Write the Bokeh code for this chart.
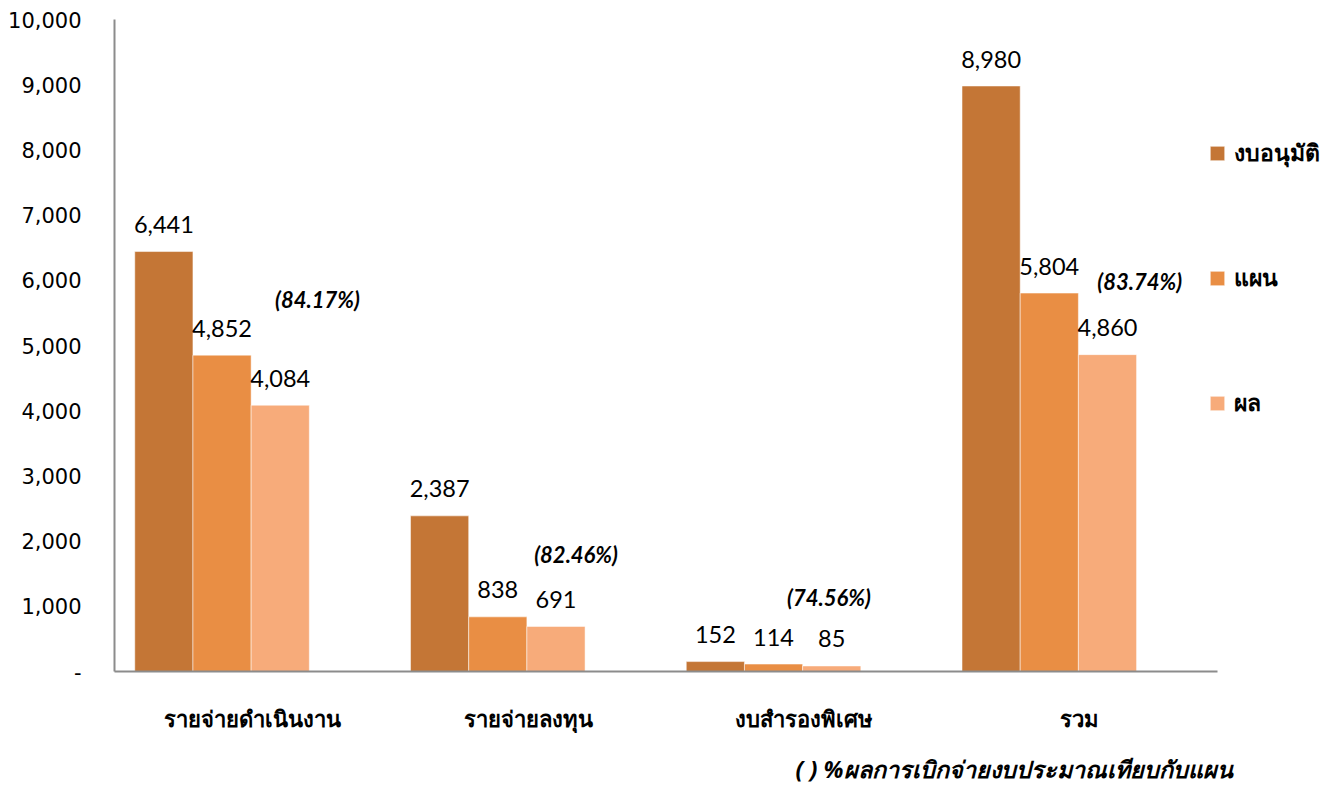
from bokeh.plotting import figure
from bokeh.models import ColumnDataSource, FactorRange, Legend, LegendItem, Label, FixedTicker, Title
from bokeh.transform import dodge
from bokeh.core.properties import value
from bokeh.embed import file_html
from bokeh.resources import INLINE

# ---- data ----
categories = ["รายจ่ายดำเนินงาน", "รายจ่ายลงทุน", "งบสำรองพิเศษ", "รวม"]
approved = [6441, 2387, 152, 8980]
plan = [4852, 838, 114, 5804]
actual = [4084, 691, 85, 4860]
pct_labels = ["(84.17%)", "(82.46%)", "(74.56%)", "(83.74%)"]
series_names = ["งบอนุมัติ", "แผน", "ผล"]
y_ticks = [0, 1000, 2000, 3000, 4000, 5000, 6000, 7000, 8000, 9000, 10000]
footer = "( ) %ผลการเบิกจ่ายงบประมาณเทียบกับแผน"

# ---- layout (not data) ----
colors = ["#C47636", "#E98E44", "#F7AB7A"]
offsets = [-0.321, -0.110, 0.101]
bar_w = 0.211
pct_dx = [0.236, 0.174, 0.091, 0.218]
pct_y = [5706, 1794, 1135, 5982]

src = ColumnDataSource(dict(cat=categories, a=approved, p=plan, r=actual,
                            la=[f"{v:,}" for v in approved],
                            lp=[f"{v:,}" for v in plan],
                            lr=[f"{v:,}" for v in actual]))

p = figure(x_range=FactorRange(*categories, range_padding=0), y_range=(0, 10000),
           frame_width=1103, frame_height=652, output_backend="svg", toolbar_location=None,
           min_border_left=114, min_border_right=0, min_border_top=19, min_border_bottom=0)
p.outline_line_color = None
p.xgrid.grid_line_color = None
p.ygrid.grid_line_color = None
p.background_fill_color = "white"

renderers = []
for i, (col, lab) in enumerate(zip(["a", "p", "r"], ["la", "lp", "lr"])):
    r = p.vbar(x=dodge("cat", offsets[i], range=p.x_range), top=col, width=bar_w,
               source=src, fill_color=colors[i], line_color="white", line_width=0.5)
    renderers.append(r)
    p.text(x=dodge("cat", offsets[i], range=p.x_range), y=col, text=lab, source=src,
           text_align="center", text_baseline="middle", y_offset=-27,
           text_font=value("Lato"), text_font_size="23.5px", text_color="#000000")

for i, c in enumerate(categories):
    p.add_layout(Label(x=i + 0.5 + pct_dx[i], y=pct_y[i], text=pct_labels[i],
                       text_align="center", text_baseline="middle",
                       text_font="Lato", text_font_size="22px",
                       text_font_style="bold italic", text_color="#000000"))

# axes
p.yaxis.ticker = FixedTicker(ticks=y_ticks)
p.yaxis.major_label_overrides = {t: (f"{t:,}" if t else "-") for t in y_ticks}
p.yaxis.major_label_text_font = "DejaVu Sans"
p.yaxis.major_label_text_font_size = "21px"
p.yaxis.major_label_text_color = "#000000"
p.yaxis.major_tick_line_color = None
p.yaxis.minor_tick_line_color = None
p.yaxis.axis_line_color = "#8C8C8C"
p.yaxis.axis_line_width = 2
p.yaxis.major_label_standoff = 27

p.xaxis.major_label_text_font = "Noto Sans"
p.xaxis.major_label_text_font_size = "22px"
p.xaxis.major_label_text_font_style = "bold"
p.xaxis.major_label_text_color = "#000000"
p.xaxis.major_tick_line_color = None
p.xaxis.minor_tick_line_color = None
p.xaxis.axis_line_color = "#8C8C8C"
p.xaxis.axis_line_width = 2
p.xaxis.major_label_standoff = 25

legend = Legend(items=[LegendItem(label=series_names[i], renderers=[renderers[i]]) for i in range(3)],
                location="top_left", orientation="vertical",
                glyph_width=18, glyph_height=18, label_height=20, spacing=89,
                padding=5, margin=0, label_standoff=8,
                label_text_font="Noto Sans", label_text_font_size="23px",
                label_text_font_style="bold", label_text_color="#000000",
                border_line_color=None, background_fill_alpha=0)
legend.location = (-9, 250)
p.add_layout(legend, "right")

p.add_layout(Title(text=footer, align="right", offset=-15, standoff=30,
                   text_font="Noto Sans", text_font_size="23.3px",
                   text_font_style="bold italic", text_color="#000000"), "below")

open("out.html", "w").write(file_html(p, INLINE))
